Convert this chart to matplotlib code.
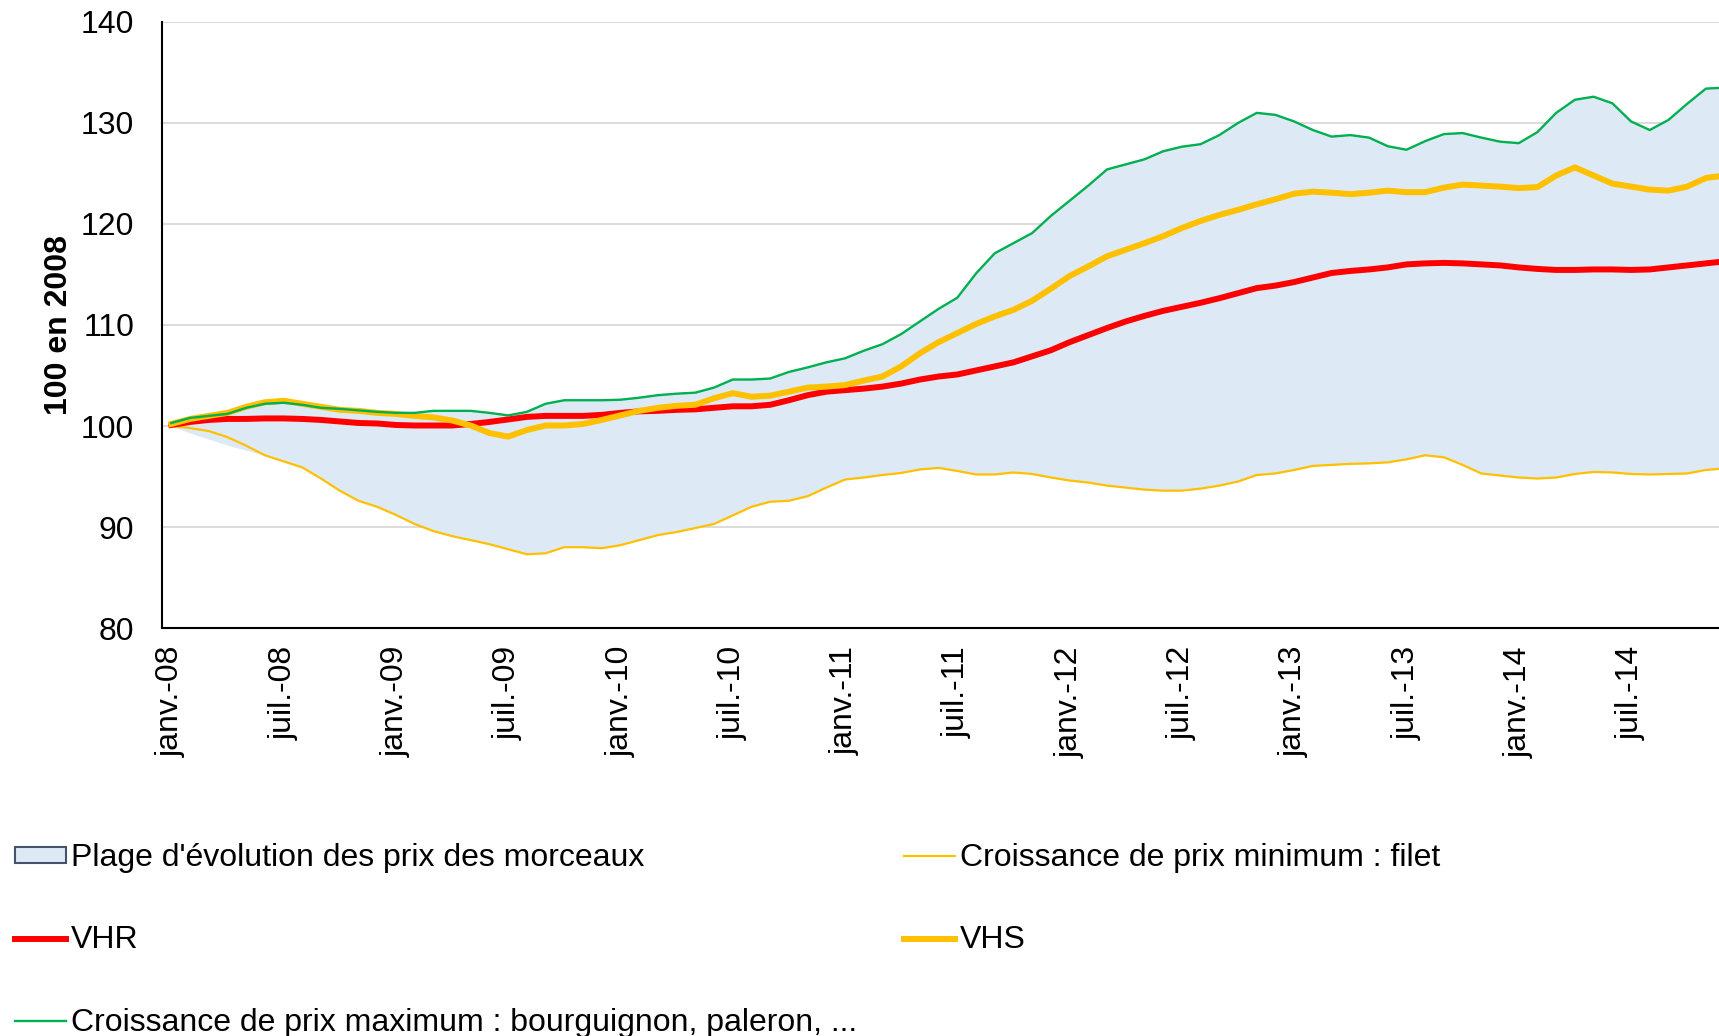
import numpy as np
import matplotlib.pyplot as plt
from matplotlib.patches import Patch
from matplotlib.lines import Line2D

plt.rcParams['font.family'] = ['Liberation Sans', 'DejaVu Sans']

# monthly index, janv. 2008 -> déc. 2014 (100 en 2008)
tick_labels = ["janv.-08", "juil.-08", "janv.-09", "juil.-09", "janv.-10", "juil.-10",
               "janv.-11", "juil.-11", "janv.-12", "juil.-12", "janv.-13", "juil.-13",
               "janv.-14", "juil.-14"]

vhr = [100.1, 100.4, 100.6, 100.7, 100.7, 100.75, 100.75, 100.7, 100.6, 100.45,
       100.3, 100.25, 100.1, 100.05, 100.05, 100.05, 100.2, 100.4, 100.65, 100.9,
       101.0, 101.0, 101.0, 101.1, 101.3, 101.45, 101.5, 101.6, 101.65, 101.8,
       101.95, 101.95, 102.1, 102.55, 103.05, 103.4, 103.55, 103.7, 103.9, 104.2,
       104.6, 104.9, 105.1, 105.5, 105.9, 106.3, 106.9, 107.5, 108.3, 109.0,
       109.7, 110.35, 110.9, 111.4, 111.8, 112.2, 112.65, 113.15, 113.65, 113.9,
       114.25, 114.7, 115.15, 115.35, 115.5, 115.7, 116.0, 116.1, 116.15, 116.1,
       116.0, 115.9, 115.7, 115.55, 115.45, 115.45, 115.5, 115.5, 115.45, 115.5,
       115.7, 115.9, 116.1, 116.3]

vhs = [100.2, 100.7, 101.0, 101.3, 101.9, 102.35, 102.5, 102.2, 101.9, 101.6,
       101.5, 101.3, 101.2, 101.0, 100.85, 100.55, 100.05, 99.3, 98.95, 99.6,
       100.05, 100.05, 100.2, 100.6, 101.05, 101.5, 101.8, 102.0, 102.1, 102.75,
       103.25, 102.9, 103.0, 103.4, 103.8, 103.9, 104.05, 104.5, 104.9, 105.9,
       107.2, 108.3, 109.2, 110.1, 110.85, 111.5, 112.4, 113.6, 114.85, 115.8,
       116.8, 117.45, 118.1, 118.8, 119.6, 120.3, 120.9, 121.4, 121.95, 122.45,
       123.0, 123.2, 123.1, 122.95, 123.1, 123.3, 123.15, 123.15, 123.6, 123.9,
       123.8, 123.7, 123.55, 123.65, 124.8, 125.6, 124.8, 124.0, 123.7, 123.4,
       123.3, 123.7, 124.55, 124.8]

prix_max = [100.3, 100.8, 101.0, 101.2, 101.8, 102.2, 102.3, 102.1, 101.8, 101.7,
            101.55, 101.4, 101.3, 101.3, 101.5, 101.5, 101.5, 101.3, 101.05, 101.4,
            102.2, 102.55, 102.55, 102.55, 102.6, 102.8, 103.05, 103.2, 103.3, 103.8,
            104.6, 104.6, 104.7, 105.35, 105.8, 106.3, 106.7, 107.45, 108.1, 109.1,
            110.35, 111.6, 112.7, 115.1, 117.1, 118.1, 119.1, 120.8, 122.3, 123.8,
            125.4, 125.9, 126.4, 127.2, 127.65, 127.9, 128.8, 130.0, 131.0, 130.8,
            130.15, 129.3, 128.65, 128.8, 128.55, 127.7, 127.35, 128.2, 128.9, 129.0,
            128.55, 128.15, 128.0, 129.1, 131.0, 132.3, 132.6, 131.95, 130.15, 129.3,
            130.3, 131.9, 133.4, 133.5]

prix_min = [100.0, 99.8, 99.5, 98.9, 98.05, 97.1, 96.5, 95.9, 94.8, 93.6,
            92.6, 92.0, 91.2, 90.3, 89.6, 89.1, 88.7, 88.3, 87.8, 87.3,
            87.4, 88.0, 88.0, 87.9, 88.2, 88.7, 89.2, 89.5, 89.9, 90.3,
            91.15, 92.0, 92.5, 92.6, 93.05, 93.9, 94.7, 94.9, 95.15, 95.35,
            95.7, 95.85, 95.55, 95.2, 95.2, 95.4, 95.25, 94.9, 94.6, 94.4,
            94.1, 93.9, 93.7, 93.6, 93.6, 93.8, 94.1, 94.5, 95.15, 95.3,
            95.65, 96.05, 96.15, 96.25, 96.3, 96.4, 96.7, 97.1, 96.9, 96.15,
            95.3, 95.1, 94.9, 94.8, 94.9, 95.25, 95.45, 95.4, 95.25, 95.2,
            95.25, 95.3, 95.65, 95.8]

# lower edge of the range: another cut is below the filet in the first months
range_low_start = [100.0, 99.3, 98.7, 98.1, 97.6, 97.1]
range_low = range_low_start + prix_min[len(range_low_start):]

months = np.arange(len(vhr))

fig = plt.figure(figsize=(17.19, 10.36), dpi=100)
ax = fig.add_axes([0.0942, 0.3938, 0.9058, 0.585])

ax.fill_between(months, range_low, prix_max, color='#dde9f5', lw=0, zorder=1)
ax.plot(months, prix_min, color='#ffc000', lw=1.6, zorder=2)
ax.plot(months, vhr, color='#ff0000', lw=4.3, zorder=3)
ax.plot(months, vhs, color='#ffc000', lw=4.3, zorder=4)
ax.plot(months, prix_max, color='#00b050', lw=1.7, zorder=5)

ax.set_xlim(-0.5, 82.7)
ax.set_ylim(80, 140)
ax.set_yticks(np.arange(80, 141, 10))
ax.set_xticks(np.arange(0, 6 * len(tick_labels), 6))
ax.set_xticklabels(tick_labels, rotation=90)
ax.yaxis.grid(True, color='#d9d9d9', lw=1.3)
ax.set_axisbelow(True)
for s in ['top', 'right']:
    ax.spines[s].set_visible(False)
for s in ['left', 'bottom']:
    ax.spines[s].set_linewidth(1.5)
ax.tick_params(axis='both', length=0, labelsize=23)
ax.tick_params(axis='y', pad=20)
ax.tick_params(axis='x', pad=13)
ax.set_ylabel("100 en 2008", fontsize=23, fontweight='bold', labelpad=5)

left_handles = [Patch(facecolor='#dde9f5', edgecolor='#44546a', lw=1.5),
                Line2D([], [], color='#ff0000', lw=4.3),
                Line2D([], [], color='#00b050', lw=1.7)]
left_labels = ["Plage d'évolution des prix des morceaux", "VHR",
               "Croissance de prix maximum : bourguignon, paleron, ..."]
right_handles = [Line2D([], [], color='#ffc000', lw=1.6),
                 Line2D([], [], color='#ffc000', lw=4.3)]
right_labels = ["Croissance de prix minimum : filet", "VHS"]

leg_kw = dict(loc='upper left', frameon=False, fontsize=23, handlelength=1.6,
              handletextpad=0.15, handleheight=0.4, labelspacing=1.64, borderpad=0,
              borderaxespad=0)
fig.legend(left_handles, left_labels, bbox_to_anchor=(15 / 1719, 1 - 843 / 1036), **leg_kw)
fig.legend(right_handles, right_labels, bbox_to_anchor=(904 / 1719, 1 - 843 / 1036), **leg_kw)

fig.savefig("out.png", dpi=100)
